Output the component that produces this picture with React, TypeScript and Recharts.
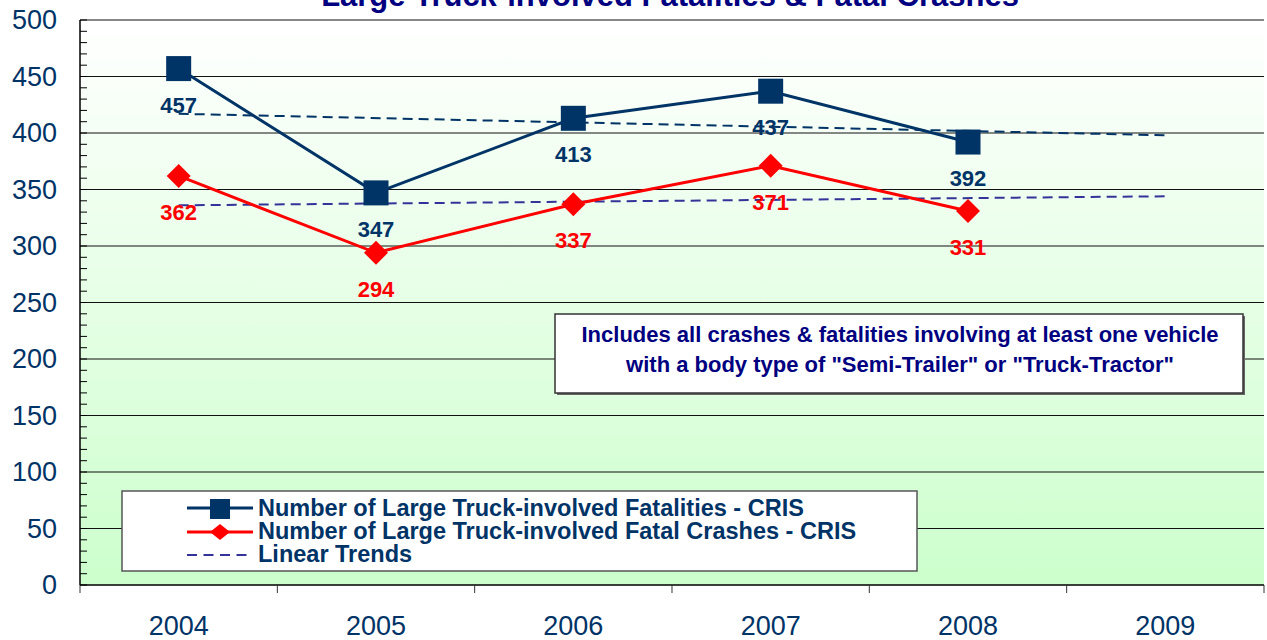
import React from "react";
import {
  LineChart,
  Line,
  XAxis,
  YAxis,
  CartesianGrid,
  ReferenceLine,
} from "recharts";

const years = ["2004", "2005", "2006", "2007", "2008", "2009"];
const fatalities = [457, 347, 413, 437, 392, null];
const fatalCrashes = [362, 294, 337, 371, 331, null];
// linear trend lines, end points
const fatalitiesTrend = [417, null, null, null, null, 398];
const crashesTrend = [336, null, null, null, null, 344];

const majorTicks = [0, 50, 100, 150, 200, 250, 300, 350, 400, 450, 500];
const minorTicks = [
  0, 10, 20, 30, 40, 50, 60, 70, 80, 90, 100, 110, 120, 130, 140, 150, 160, 170,
  180, 190, 200, 210, 220, 230, 240, 250, 260, 270, 280, 290, 300, 310, 320, 330,
  340, 350, 360, 370, 380, 390, 400, 410, 420, 430, 440, 450, 460, 470, 480, 490, 500,
];

const title = "Large Truck-involved Fatalities & Fatal Crashes";
const note = [
  "Includes all crashes & fatalities involving at least one vehicle",
  'with a body type of "Semi-Trailer" or "Truck-Tractor"',
];
const legendNames = [
  "Number of Large Truck-involved Fatalities - CRIS",
  "Number of Large Truck-involved Fatal Crashes - CRIS",
  "Linear Trends",
];

const data = years.map((year, i) => ({
  year,
  fatalities: fatalities[i],
  crashes: fatalCrashes[i],
  fatTrend: fatalitiesTrend[i],
  crashTrend: crashesTrend[i],
}));

const NAVY = "#003366";
const RED = "#ff0000";
const TREND2 = "#333399";
const FONT = "'Liberation Sans', Arial, sans-serif";
const HALF_BAND = 98.67;

const YTick = (props: any) => {
  const { x, y, payload } = props;
  const v = payload.value;
  return (
    <g>
      <line x1={x} x2={x + 7} y1={y} y2={y} stroke="#000" strokeWidth={1} />
      {v % 50 === 0 && (
        <text x={x - 23} y={y + 9} textAnchor="end" fill={NAVY} fontSize={27} fontFamily={FONT}>
          {v}
        </text>
      )}
    </g>
  );
};

const XTick = (props: any) => {
  const { x, y, payload, index, visibleTicksCount } = props;
  const last = index === visibleTicksCount - 1;
  return (
    <g>
      <line x1={x - HALF_BAND} x2={x - HALF_BAND} y1={y} y2={y + 8} stroke="#333" strokeWidth={1} />
      {last && (
        <line x1={x + HALF_BAND} x2={x + HALF_BAND} y1={y} y2={y + 8} stroke="#333" strokeWidth={1} />
      )}
      <text x={x} y={y + 50} textAnchor="middle" fill={NAVY} fontSize={27} fontFamily={FONT}>
        {payload.value}
      </text>
    </g>
  );
};

const SquareDot = (props: any) => {
  const { cx, cy, value } = props;
  if (value == null || cx == null) return null;
  return <rect x={cx - 12.5} y={cy - 12.5} width={25} height={25} fill={NAVY} />;
};

const DiamondDot = (props: any) => {
  const { cx, cy, value } = props;
  if (value == null || cx == null) return null;
  return (
    <polygon
      points={`${cx},${cy - 12} ${cx + 12},${cy} ${cx},${cy + 12} ${cx - 12},${cy}`}
      fill={RED}
    />
  );
};

const valueLabel = (color: string) => (props: any) => {
  const { x, y, value } = props;
  if (value == null) return null;
  return (
    <text x={x} y={y + 44} textAnchor="middle" fill={color} fontSize={22} fontWeight="bold" fontFamily={FONT}>
      {value}
    </text>
  );
};

export default function App() {
  return (
    <div style={{ position: "absolute", left: 0, top: 0, width: 1267, height: 640, background: "#fff" }}>
      <LineChart width={1267} height={640} data={data} margin={{ top: 20, right: 3, left: 0, bottom: 0 }}>
        <defs>
          <linearGradient id="plotBg" x1="0" y1="0" x2="0" y2="1">
            <stop offset="0%" stopColor="#ffffff" />
            <stop offset="100%" stopColor="#ccffcc" />
          </linearGradient>
        </defs>
        <CartesianGrid horizontal={false} vertical={false} fill="url(#plotBg)" fillOpacity={1} />
        <XAxis
          dataKey="year"
          height={55}
          axisLine={{ stroke: "#000", strokeWidth: 1.5 }}
          tickLine={false}
          tickSize={0}
          tickMargin={0}
          tick={<XTick />}
          interval={0}
          padding={{ left: 98.67, right: 98.67 }}
        />
        <YAxis
          width={80}
          domain={[0, 500]}
          ticks={minorTicks}
          interval={0}
          tickSize={0}
          tickMargin={0}
          tickLine={false}
          tick={<YTick />}
          axisLine={{ stroke: "#000", strokeWidth: 1.5 }}
        />
        <YAxis
          yAxisId="right"
          orientation="right"
          width={0}
          domain={[0, 500]}
          tick={false}
          tickLine={false}
          axisLine={{ stroke: "#888", strokeWidth: 1.5 }}
        />
        {majorTicks.filter((v) => v > 0).map((v) => (
          <ReferenceLine key={v} y={v} stroke="#111" strokeWidth={1} />
        ))}
        <Line
          dataKey="fatTrend"
          stroke={NAVY}
          strokeWidth={2}
          strokeDasharray="10 6"
          dot={false}
          activeDot={false}
          connectNulls
          isAnimationActive={false}
        />
        <Line
          dataKey="crashTrend"
          stroke={TREND2}
          strokeWidth={2}
          strokeDasharray="10 6"
          dot={false}
          activeDot={false}
          connectNulls
          isAnimationActive={false}
        />
        <Line
          dataKey="fatalities"
          stroke={NAVY}
          strokeWidth={3}
          dot={<SquareDot />}
          activeDot={false}
          label={valueLabel(NAVY)}
          isAnimationActive={false}
        />
        <Line
          dataKey="crashes"
          stroke={RED}
          strokeWidth={3}
          dot={<DiamondDot />}
          activeDot={false}
          label={valueLabel(RED)}
          isAnimationActive={false}
        />
      </LineChart>
      <svg
        width={1267}
        height={640}
        style={{ position: "absolute", left: 0, top: 0, pointerEvents: "none" }}
      >
        <text x={670} y={6} textAnchor="middle" fill="#000080" fontSize={31} fontWeight="bold" fontFamily={FONT}>
          {title}
        </text>

        {/* note box */}
        <rect x={557} y={316} width={688} height={79} fill="#666" />
        <rect x={555} y={314} width={688} height={79} fill="#fff" stroke="#333" strokeWidth={1.5} />
        {note.map((t, i) => (
          <text key={i} x={900} y={342 + i * 30} textAnchor="middle" fill="#000080" fontSize={22} fontWeight="bold" fontFamily={FONT}>
            {t}
          </text>
        ))}

        {/* legend */}
        <rect x={122} y={491} width={795} height={80} fill="#fff" stroke="#555" strokeWidth={1.5} />
        <line x1={187} x2={253} y1={508} y2={508} stroke={NAVY} strokeWidth={3} />
        <rect x={210} y={499} width={20} height={20} fill={NAVY} />
        <line x1={187} x2={253} y1={532} y2={532} stroke={RED} strokeWidth={3} />
        <polygon points="220,524 230,532 220,540 210,532" fill={RED} />
        <line x1={187} x2={250} y1={555} y2={555} stroke={TREND2} strokeWidth={2} strokeDasharray="10 6.5" />
        {legendNames.map((t, i) => (
          <text key={i} x={258} y={516 + i * 23} fill={NAVY} fontSize={23.5} fontWeight="bold" fontFamily={FONT}>
            {t}
          </text>
        ))}
      </svg>
    </div>
  );
}
